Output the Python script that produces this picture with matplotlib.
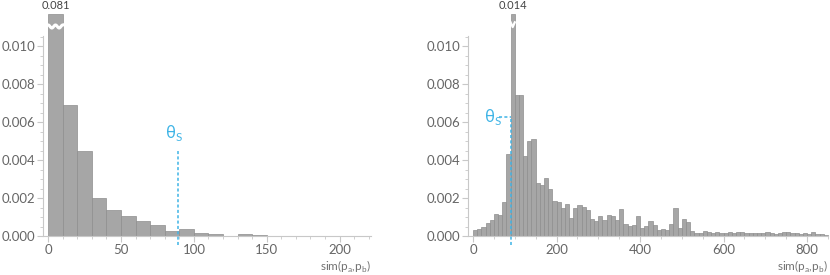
import numpy as np
import matplotlib.pyplot as plt
from matplotlib.ticker import MultipleLocator, FormatStrFormatter

# left histogram: bin width 10, from 0
left_edges = np.arange(0, 230, 10)
left_vals = [0.081, 0.0069, 0.0045, 0.0020, 0.00138, 0.00104, 0.00081, 0.0006,
             0.00026, 0.00035, 0.00015, 0.0001, 0.00002, 0.00009, 0.00005, 0.00002,
             0.00002, 0.00001, 0.00001, 0.00001, 0.000005, 0.000005]
left_theta = 89

# right histogram: bin width 10, from 0
right_edges = np.arange(0, 860, 10)
right_vals = [0.00032, 0.00035, 0.0005, 0.00067, 0.00084, 0.00114, 0.0011, 0.0018, 0.0043, 0.014,
              0.0074, 0.0074, 0.0042, 0.0050, 0.0051, 0.00277, 0.00268, 0.00303, 0.00246, 0.00184,
              0.0018, 0.0015, 0.0017, 0.00093, 0.0015, 0.00163, 0.00151, 0.00137, 0.00089, 0.00079,
              0.00105, 0.00084, 0.0011, 0.00105, 0.00083, 0.0014, 0.00063, 0.00053, 0.00058, 0.00107,
              0.00042, 0.00054, 0.00077, 0.00056, 0.00032, 0.00039, 0.0003, 0.00063, 0.00146, 0.00042,
              0.00091, 0.00074, 0.00025, 0.00014, 0.00018, 0.00025,
              0.00023, 0.00016, 0.0002, 0.00018, 0.00016, 0.0002, 0.00018, 0.00021, 0.0002, 0.00016,
              0.00018, 0.00016, 0.00018, 0.00016, 0.0002, 0.00018, 0.00012, 0.00016, 0.00021, 0.0002,
              0.00016, 0.00014, 0.00011, 0.00014, 0.00012, 0.0002, 0.00012, 0.00009, 0.00003]
right_theta = 90

BAR = '#a6a6a6'
EDGE = '#8e8e8e'
BLUE = '#3fb4e6'
TXT = '#666666'
CAP = 0.0117
YMAX = 0.01053

plt.rcParams['font.family'] = ['Lato', 'DejaVu Sans']


def style(ax, xlim, xmajor, xminor):
    ax.set_ylim(0, YMAX)
    ax.set_xlim(*xlim)
    for s in ['top', 'right']:
        ax.spines[s].set_visible(False)
    for s in ['left', 'bottom']:
        ax.spines[s].set_color('#c8c8c8')
        ax.spines[s].set_linewidth(0.8)
    ax.yaxis.set_major_locator(MultipleLocator(0.002))
    ax.yaxis.set_minor_locator(MultipleLocator(0.0005))
    ax.yaxis.set_major_formatter(FormatStrFormatter('%.3f'))
    ax.xaxis.set_major_locator(MultipleLocator(xmajor))
    ax.xaxis.set_minor_locator(MultipleLocator(xminor))
    ax.tick_params(which='major', length=4, color='#c8c8c8', labelsize=9.5,
                   labelcolor=TXT, pad=2)
    ax.tick_params(axis='y', which='major', pad=1.5)
    ax.tick_params(which='minor', length=2.5, color='#c8c8c8')
    ax.text(1.0, -0.155, r'sim(p$_\mathregular{a}$,p$_\mathregular{b}$)',
            transform=ax.transAxes, ha='right', va='center', fontsize=8.5,
            color='#707070')


def hist(ax, edges, vals, width):
    vals = np.array(vals)
    shown = np.minimum(vals, CAP)
    ax.bar(edges[:len(vals)], shown, width=width, align='edge', color=BAR,
           edgecolor=EDGE, linewidth=0.5, clip_on=False)
    i = int(np.argmax(vals))
    x0 = edges[i]
    return i, x0


fig = plt.figure(figsize=(8.3, 2.75), dpi=100)
ax1 = fig.add_axes([0.0514, 0.1418, 0.3955, 0.7273])
ax2 = fig.add_axes([0.5635, 0.1418, 0.4341, 0.7273])

# left panel
i, x0 = hist(ax1, left_edges, left_vals, 10)
xs = np.linspace(x0, x0 + 10, 40)
ax1.plot(xs, 0.01103 + 0.00008 * np.cos((xs - x0) / 10 * 4 * np.pi), color='white',
         lw=2.2, clip_on=False, zorder=5)
ax1.text(x0 + 5, CAP + 0.00015, '%.3f' % left_vals[i], ha='center', va='bottom',
         fontsize=8, color='#444444')
ax1.plot([left_theta, left_theta], [-0.00047, 0.0045], ls=(0, (2, 1.5)), color=BLUE,
         lw=1.1, clip_on=False, zorder=6)
ax1.text(left_theta - 3, 0.0054, r'θ$_\mathregular{S}$', color=BLUE, fontsize=12,
         ha='center', va='center')
style(ax1, (-3.8, 221.5), 50, 10)

# right panel
i, x0 = hist(ax2, right_edges, right_vals, 10)
ax2.plot([x0, x0 + 5, x0 + 10], [0.01125, 0.0110, 0.01125], color='white', lw=1.6,
         clip_on=False, zorder=5)
ax2.text(x0 + 5, CAP + 0.00015, '%.3f' % right_vals[i], ha='center', va='bottom',
         fontsize=8, color='#444444')
ax2.plot([right_theta, right_theta], [-0.00047, 0.00628], ls=(0, (2, 1.5)), color=BLUE,
         lw=1.1, clip_on=False, zorder=6)
ax2.plot([right_theta - 27, right_theta], [0.00628, 0.00628], ls=(0, (2, 1.5)),
         color=BLUE, lw=1.1, zorder=6)
ax2.text(right_theta - 42, 0.00628, r'θ$_\mathregular{S}$', color=BLUE, fontsize=12,
         ha='center', va='center')
style(ax2, (-12.7, 850), 200, 50)

fig.savefig('out.png', dpi=100)
